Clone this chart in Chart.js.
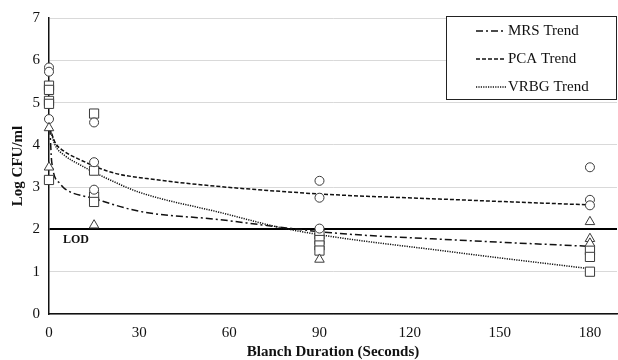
<!DOCTYPE html>
<html>
<head>
<meta charset="utf-8">
<script src="https://cdn.jsdelivr.net/npm/chart.js@4.4.0/dist/chart.umd.min.js"></script>
<style>
  html, body { margin: 0; padding: 0; background: #fff; }
  #wrap { width: 618px; height: 360px; }
</style>
</head>
<body>
<div id="wrap"><canvas id="blanchChart"></canvas></div>
<script>
const xTicks = [0, 30, 60, 90, 120, 150, 180];
const LOD = 2;

// measured counts, Log CFU/ml, per blanch time (s)
const mrsX = [0, 0, 15, 90, 180, 180, 180];
const mrsY = [4.40, 3.47, 2.10, 1.29, 2.18, 1.78, 1.67];

const pcaX = [0, 0, 0, 15, 15, 15, 90, 90, 90, 180, 180, 180];
const pcaY = [5.83, 5.73, 4.61, 4.53, 3.59, 2.94, 3.15, 2.75, 2.02, 3.47, 2.70, 2.57];

const vrbgX = [0, 0, 0, 0, 0, 15, 15, 15, 15, 90, 90, 90, 90, 180, 180, 180];
const vrbgY = [5.40, 5.30, 5.04, 4.97, 3.17, 4.74, 3.39, 2.78, 2.65, 1.88, 1.75, 1.62, 1.50, 1.51, 1.35, 1.00];

// trend curves
const mrsTrendX = [0.3, 0.9, 3.6, 5.3, 15, 30, 57, 75, 94, 135, 180];
const mrsTrendY = [4.40, 3.60, 3.09, 2.96, 2.73, 2.43, 2.23, 2.07, 1.92, 1.75, 1.60];

const pcaTrendX = [0.3, 2, 5, 9.7, 20.8, 31.9, 83, 133, 180];
const pcaTrendY = [4.40, 4.06, 3.85, 3.67, 3.35, 3.21, 2.87, 2.71, 2.58];

const vrbgTrendX = [0.3, 2, 5, 10, 20, 30, 57, 80, 135, 180];
const vrbgTrendY = [4.40, 4.00, 3.76, 3.54, 3.18, 2.88, 2.40, 2.00, 1.46, 1.07];

const toPoints = (xs, ys) => xs.map((x, i) => ({ x: x, y: ys[i] }));

const serif = "'Liberation Serif', 'Times New Roman', serif";

function markers(label, xs, ys, style, r) {
  return {
    label: label,
    data: toPoints(xs, ys),
    showLine: false,
    clip: false,
    pointStyle: style,
    pointRadius: r,
    pointBackgroundColor: '#fff',
    pointBorderColor: '#3a3a3a',
    pointBorderWidth: 1,
    isTrend: false
  };
}

function trend(label, xs, ys, dash) {
  return {
    label: label,
    data: toPoints(xs, ys),
    showLine: true,
    borderColor: '#111',
    borderWidth: 1.5,
    borderDash: dash,
    pointRadius: 0,
    cubicInterpolationMode: 'monotone',
    isTrend: true
  };
}

// legend box inside the plot, top right
const trendLegend = {
  id: 'trendLegend',
  afterDraw(chart) {
    const ctx = chart.ctx;
    const area = chart.chartArea;
    const w = 171, h = 84;
    const left = area.right - w, top = area.top - 2;
    ctx.save();
    ctx.fillStyle = '#fff';
    ctx.fillRect(left, top, w, h);
    ctx.strokeStyle = '#222';
    ctx.lineWidth = 1;
    ctx.strokeRect(left + 0.5, top + 0.5, w - 1, h - 1);
    const trends = chart.data.datasets.filter(d => d.isTrend);
    trends.forEach((d, i) => {
      const y = top + 15 + i * 28;
      ctx.beginPath();
      ctx.setLineDash(d.borderDash);
      ctx.lineWidth = 1.5;
      ctx.strokeStyle = '#111';
      ctx.moveTo(left + 30, y);
      ctx.lineTo(left + 60, y);
      ctx.stroke();
      ctx.setLineDash([]);
      ctx.fillStyle = '#111';
      ctx.font = '15px ' + serif;
      ctx.textBaseline = 'middle';
      ctx.fillText(d.label, left + 62, y);
    });

    // LOD label under the limit line
    const xs = chart.scales.x, ys = chart.scales.y;
    ctx.font = 'bold 12px ' + serif;
    ctx.fillText('LOD', xs.getPixelForValue(0) + 14, ys.getPixelForValue(LOD) + 10);
    ctx.restore();
  }
};

new Chart(document.getElementById('blanchChart'), {
  type: 'scatter',
  data: {
    datasets: [
      markers('MRS', mrsX, mrsY, 'triangle', 5.5),
      markers('PCA', pcaX, pcaY, 'circle', 4.5),
      markers('VRBG', vrbgX, vrbgY, 'rect', 6.5),
      trend('MRS Trend', mrsTrendX, mrsTrendY, [7, 3, 2, 3]),
      trend('PCA Trend', pcaTrendX, pcaTrendY, [4, 2]),
      trend('VRBG Trend', vrbgTrendX, vrbgTrendY, [1.2, 1.2])
    ]
  },
  options: {
    responsive: true,
    maintainAspectRatio: false,
    animation: false,
    layout: { autoPadding: false, padding: { left: 0, top: 17, right: 1, bottom: 0 } },
    plugins: {
      legend: { display: false },
      tooltip: { enabled: false }
    },
    scales: {
      x: {
        type: 'linear',
        min: 0,
        max: 189,
        afterBuildTicks: s => { s.ticks = xTicks.map(v => ({ value: v })); },
        afterFit: s => { s.height = 46; },
        grid: { display: false, drawTicks: false },
        border: { display: true, color: '#111', width: 1.5 },
        ticks: { padding: 10, color: '#111', font: { family: serif, size: 15 } },
        title: {
          display: true,
          text: 'Blanch Duration (Seconds)',
          color: '#111',
          padding: { top: 0, bottom: -1 },
          font: { family: serif, size: 15, weight: 'bold' }
        }
      },
      y: {
        min: 0,
        max: 7,
        afterFit: s => { s.width = 49; },
        grid: {
          drawTicks: false,
          color: c => c.tick.value === LOD ? '#000' : '#d9d9d9',
          lineWidth: c => c.tick.value === LOD ? 2 : 1
        },
        border: { display: true, color: '#111', width: 1.5 },
        ticks: { stepSize: 1, padding: 9, color: '#111', font: { family: serif, size: 15 } },
        title: {
          display: true,
          text: 'Log CFU/ml',
          color: '#111',
          padding: { top: 9, bottom: 0 },
          font: { family: serif, size: 15, weight: 'bold' }
        }
      }
    }
  },
  plugins: [trendLegend]
});
</script>
</body>
</html>
